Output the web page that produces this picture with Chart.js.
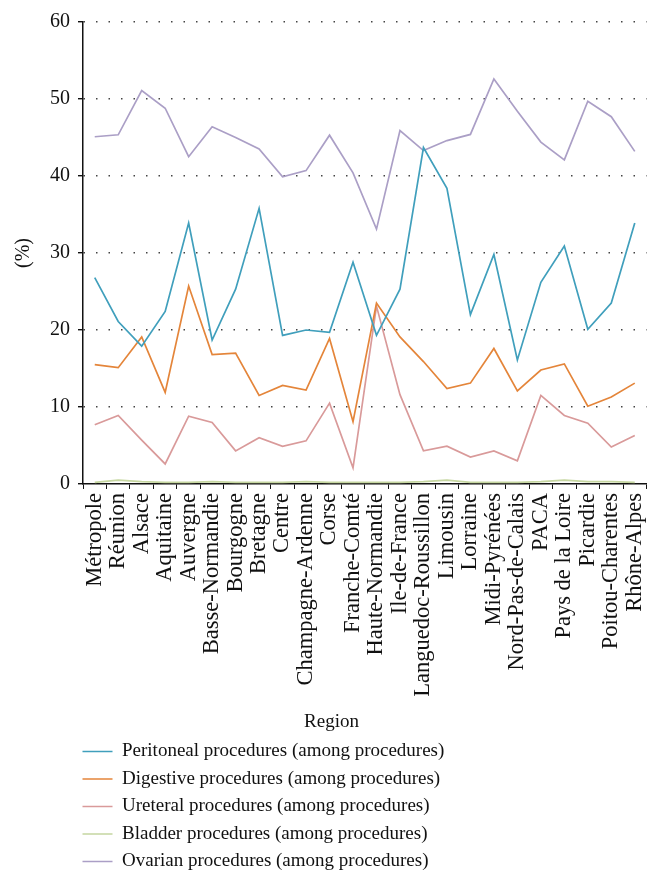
<!DOCTYPE html>
<html>
<head>
<meta charset="utf-8">
<script src="https://cdn.jsdelivr.net/npm/chart.js@4.4.0/dist/chart.umd.min.js"></script>
<style>
  body { margin: 0; background: #fff; }
  #wrap { width: 666px; height: 886px; }
</style>
</head>
<body>
<div id="wrap"><canvas id="regions"></canvas></div>
<script>
const regions = ['Métropole', 'Réunion', 'Alsace', 'Aquitaine', 'Auvergne', 'Basse-Normandie',
  'Bourgogne', 'Bretagne', 'Centre', 'Champagne-Ardenne', 'Corse', 'Franche-Comté',
  'Haute-Normandie', 'Ile-de-France', 'Languedoc-Roussillon', 'Limousin', 'Lorraine',
  'Midi-Pyrénées', 'Nord-Pas-de-Calais', 'PACA', 'Pays de la Loire', 'Picardie',
  'Poitou-Charentes', 'Rhône-Alpes']

const peritoneal = [26.8, 21.1, 17.9, 22.4, 33.9, 18.7, 25.3, 35.8, 19.3, 20.0, 19.7, 28.8,
  19.3, 25.3, 43.7, 38.4, 22.0, 29.8, 16.1, 26.2, 30.9, 20.1, 23.5, 33.9]
const digestive = [15.5, 15.1, 19.1, 11.9, 25.7, 16.8, 17.0, 11.5, 12.8, 12.2, 18.9, 8.1,
  23.5, 19.1, 15.9, 12.4, 13.1, 17.6, 12.1, 14.8, 15.6, 10.1, 11.3, 13.1]
const ureteral = [7.7, 8.9, 5.7, 2.6, 8.8, 8.0, 4.3, 6.0, 4.9, 5.6, 10.5, 2.1,
  23.1, 11.6, 4.3, 4.9, 3.5, 4.3, 3.0, 11.5, 8.9, 7.9, 4.8, 6.3]
const bladder = [0.2, 0.5, 0.3, 0.2, 0.2, 0.3, 0.2, 0.2, 0.2, 0.3, 0.2, 0.2,
  0.2, 0.2, 0.3, 0.5, 0.2, 0.2, 0.2, 0.3, 0.5, 0.3, 0.3, 0.2]
const ovarian = [45.1, 45.35, 51.1, 48.8, 42.5, 46.4, 45.0, 43.5, 39.9, 40.7, 45.3, 40.4,
  33.1, 45.9, 43.3, 44.6, 45.4, 52.6, 48.4, 44.4, 42.1, 49.7, 47.7, 43.2]

const yTicks = [0, 10, 20, 30, 40, 50, 60]

const series = [
  { label: 'Peritoneal procedures (among procedures)', data: peritoneal, color: '#409fbc' },
  { label: 'Digestive procedures (among procedures)', data: digestive, color: '#e4853a' },
  { label: 'Ureteral procedures (among procedures)', data: ureteral, color: '#d99a9a' },
  { label: 'Bladder procedures (among procedures)', data: bladder, color: '#c5d6a0' },
  { label: 'Ovarian procedures (among procedures)', data: ovarian, color: '#ab9fc6' }
]

const serif = '"Liberation Serif", "DejaVu Serif", serif'
Chart.defaults.font.family = serif
Chart.defaults.color = '#111'

// legend sits flush with the y axis in the original
const legendNudge = {
  id: 'legendNudge',
  afterLayout: chart => {
    chart.legend.left -= 9
    chart.legend.right -= 9
  }
}

const ctx = document.querySelector('#regions')
new Chart(ctx, {
  type: 'line',
  data: {
    labels: regions,
    datasets: series.map(s => ({
      label: s.label,
      data: s.data,
      borderColor: s.color,
      backgroundColor: s.color,
      borderWidth: 1.7,
      pointRadius: 0,
      tension: 0
    }))
  },
  plugins: [legendNudge],
  options: {
    responsive: true,
    maintainAspectRatio: false,
    animation: false,
    layout: { padding: { top: 22, right: 11, left: 8, bottom: 5 } },
    scales: {
      x: {
        offset: true,
        grid: { offset: true, drawOnChartArea: false, drawTicks: true, tickLength: 5, tickColor: '#111' },
        border: { color: '#111', width: 1.5 },
        ticks: { autoSkip: false, minRotation: 90, maxRotation: 90, padding: 4, font: { size: 22.5 } }
      },
      y: {
        min: 0,
        max: 60,
        afterBuildTicks: scale => { scale.ticks = yTicks.map(v => ({ value: v })) },
        grid: {
          color: ctx => ctx.tick && ctx.tick.value === 0 ? 'rgba(0,0,0,0)' : '#444',
          lineWidth: 1.4,
          tickLength: 5,
          tickColor: '#111',
          tickBorderDash: []
        },
        border: { color: '#111', width: 1.5, dash: [1.5, 11] },
        ticks: { padding: 8, font: { size: 20 } },
        title: { display: true, text: '(%)', font: { size: 20 }, padding: { bottom: 6 } }
      }
    },
    plugins: {
      tooltip: { enabled: false },
      title: {
        display: true,
        text: 'Region',
        position: 'bottom',
        weight: 500,
        color: '#111',
        font: { size: 19, weight: 'normal' },
        padding: { top: 10, bottom: 0 }
      },
      legend: {
        position: 'bottom',
        align: 'start',
        fullSize: false,
        labels: {
          usePointStyle: true,
          pointStyle: 'line',
          pointStyleWidth: 30,
          boxHeight: 19,
          padding: 8.5,
          color: '#111',
          font: { size: 19 }
        }
      }
    }
  }
})
</script>
</body>
</html>
